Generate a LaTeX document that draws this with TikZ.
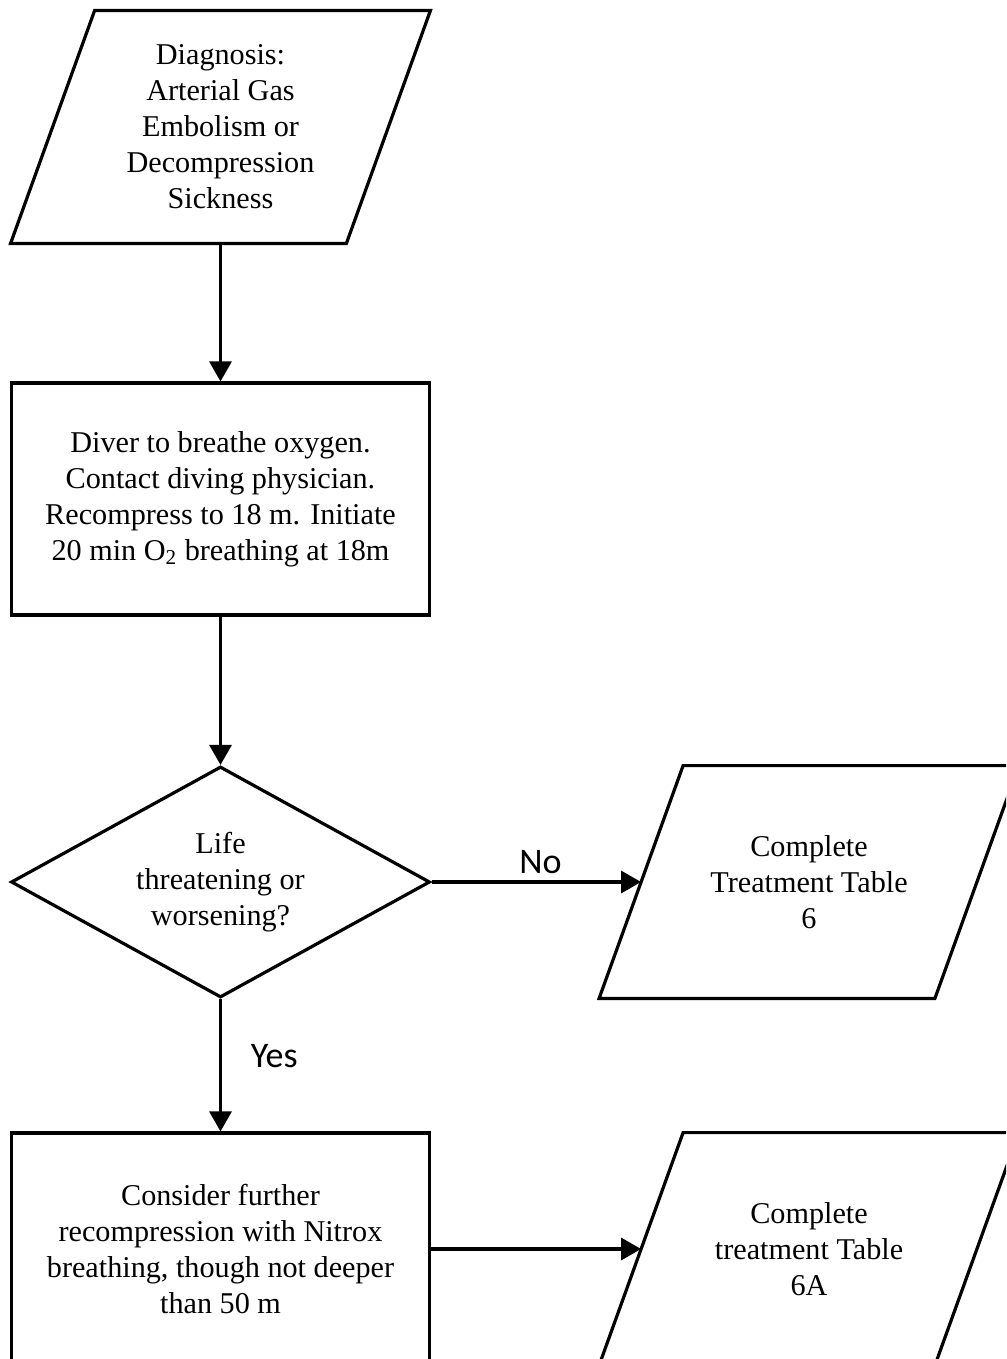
\documentclass[tikz,border=0pt]{standalone}
\usepackage{fontspec}
\setmainfont{Liberation Serif}
\newfontfamily\labfont{Carlito}
\usepackage{xcolor}
\usepackage{tikz}
\usetikzlibrary{calc,shapes.geometric,arrows.meta}
\definecolor{ink}{HTML}{000000}
\tikzset{
  box/.style={draw=ink, line width=1.6pt, minimum width=209pt, minimum height=116pt, align=center, inner sep=0pt},
  body/.style={minimum width=167.5pt, minimum height=116pt, align=center, inner sep=0pt},
  slantline/.style={draw=ink, line width=1.6pt},
  choice/.style={diamond, draw=ink, line width=1.6pt, aspect=1.8, minimum width=209.5pt, minimum height=115.5pt, align=center, inner sep=0pt},
  flow/.style={draw=ink, line width=1.6pt, -{Triangle[length=10pt,width=11pt]}},
  lab/.style={font=\labfont\fontsize{18}{21}\selectfont},
  every node/.style={text=ink, font=\fontsize{15.1}{18}\selectfont}
}
\newcommand{\SlantAround}[1]{%
  \draw[slantline] ($(#1.north west)+(21pt,0pt)$) -- ($(#1.north east)+(21pt,0pt)$)
    -- ($(#1.south east)+(-21pt,0pt)$) -- ($(#1.south west)+(-21pt,0pt)$) -- cycle;
}

\begin{document}
\begin{tikzpicture}[x=0.5pt, y=-0.5pt]
  \useasboundingbox (0,0) rectangle (1006,1359);
  \clip (0,0) rectangle (1006,1359);

  \node[body] (diag) at (220.5,127) {Diagnosis:\\Arterial Gas\\Embolism or\\Decompression\\Sickness};
  \SlantAround{diag}

  \node[box] (oxy) at (220.5,499) {Diver to breathe oxygen.\\Contact diving physician.\\Recompress to 18 m. Initiate\\20 min O\textsubscript{2} breathing at 18m};

  \node[choice] (worse) at (220.5,882) {Life\\threatening or\\worsening?};

  \node[body] (tt6) at (809,882) {Complete\\Treatment Table\\6};
  \SlantAround{tt6}

  \node[box] (nitrox) at (220.5,1249) {Consider further\\recompression with Nitrox\\breathing, though not deeper\\than 50 m};

  \node[body] (tt6a) at (809,1249) {Complete\\treatment Table\\6A};
  \SlantAround{tt6a}

  \draw[flow] (diag.south) -- (oxy.north);
  \draw[flow] (oxy.south) -- (worse.north);
  \draw[flow] (worse.east) -- node[lab, pos=0.52, above] (no) {No} (tt6.west);
  \draw[flow] (worse.south) -- node[lab, pos=0.43, right=11pt] (yes) {Yes} (nitrox.north);
  \draw[flow] (nitrox.east) -- (tt6a.west);
\end{tikzpicture}
\end{document}
